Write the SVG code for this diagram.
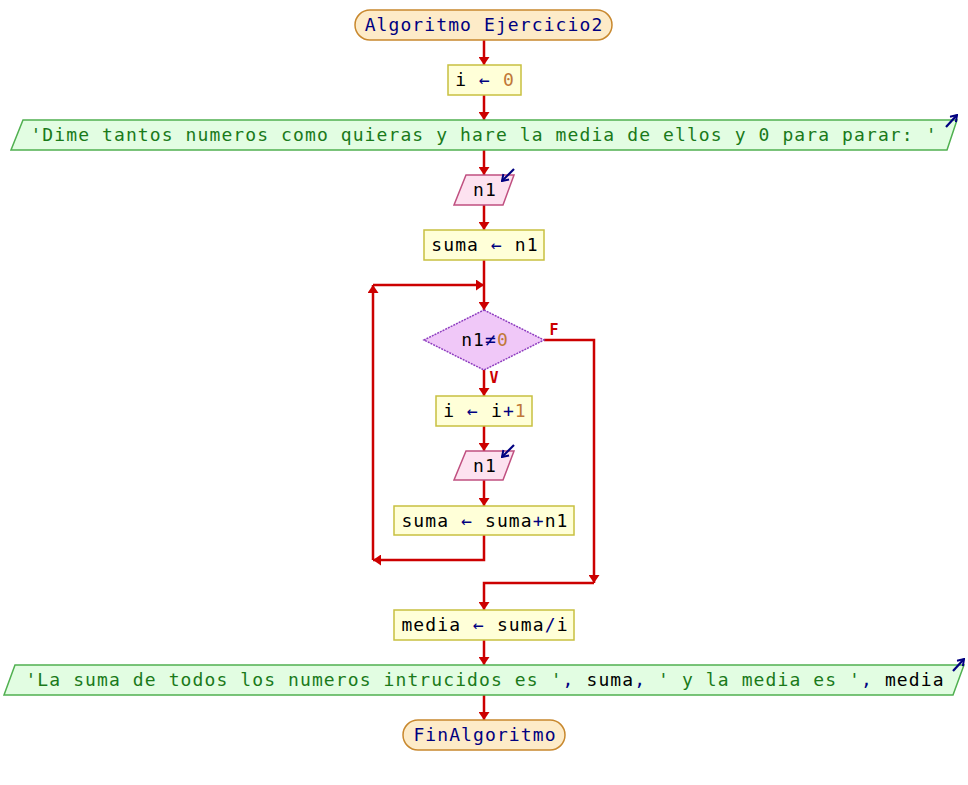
<svg xmlns="http://www.w3.org/2000/svg" width="968" height="785" viewBox="0 0 968 785">
  <defs>
    <style>
      text { font-family: "DejaVu Sans Mono", "Liberation Mono", monospace; font-size: 18px; letter-spacing: 1.1px; text-anchor: middle; fill: #000000; }
      .kw { fill: #000080; }
      .op { fill: #000080; }
      .num { fill: #c07838; }
      .str { fill: #1a7a1a; }
      .term { fill: #fdebc8; stroke: #c8882e; stroke-width: 1.5; }
      .proc { fill: #ffffd8; stroke: #c8c040; stroke-width: 1.5; }
      .out { fill: #e2fde2; stroke: #50b050; stroke-width: 1.5; }
      .in { fill: #fde2f0; stroke: #c05080; stroke-width: 1.5; }
      .dec { fill: #f0c8f8; stroke: #9040c0; stroke-width: 1.5; stroke-dasharray: 2 1; }
      .flow { fill: none; stroke: #cc0000; stroke-width: 2.5; marker-end: url(#arr); }
      .io { fill: none; stroke: #000080; stroke-width: 2.2; marker-end: url(#ioarr); }
      .lbl { fill: #cc0000; font-weight: bold; font-size: 15px; letter-spacing: 0; }
    </style>
    <marker id="arr" viewBox="0 0 8 11" refX="8" refY="5.5" markerWidth="8" markerHeight="11" markerUnits="userSpaceOnUse" orient="auto">
      <path d="M0,0 L8,5.5 L0,11 z" fill="#cc0000"/>
    </marker>
    <marker id="ioarr" viewBox="0 0 8 10" refX="7" refY="5" markerWidth="8" markerHeight="10" markerUnits="userSpaceOnUse" orient="auto">
      <path d="M1,1 L7,5 L1,9" fill="none" stroke="#000080" stroke-width="2"/>
    </marker>
  </defs>
  <rect width="968" height="785" fill="#ffffff"/>

  <g id="connectors">
    <path class="flow" d="M484 40 V65"/>
    <path class="flow" d="M484 95 V120"/>
    <path class="flow" d="M484 150 V175"/>
    <path class="flow" d="M484 205 V230"/>
    <path class="flow" d="M484 260 V310"/>
    <path class="flow" d="M484 370 V396"/>
    <path class="flow" d="M484 426 V451"/>
    <path class="flow" d="M484 480 V506"/>
    <path class="flow" d="M484 535 V560 H373"/>
    <path class="flow" d="M373 560 V285"/>
    <path class="flow" d="M373 285 H484"/>
    <path class="flow" d="M544 340 H594 V583"/>
    <path class="flow" d="M594 583 H484 V610"/>
    <path class="flow" d="M484 640 V665"/>
    <path class="flow" d="M484 695 V720"/>
    <text class="lbl" x="554" y="335">F</text>
    <text class="lbl" x="494" y="383">V</text>
  </g>

  <g id="start">
    <rect class="term" x="355" y="10" width="257" height="30" rx="15"/>
    <text x="484" y="31" class="kw">Algoritmo Ejercicio2</text>
  </g>

  <g id="assign-i">
    <rect class="proc" x="448" y="65" width="73" height="30"/>
    <text x="485" y="86">i <tspan class="op">←</tspan> <tspan class="num">0</tspan></text>
  </g>

  <g id="prompt">
    <polygon class="out" points="23,120 957,120 947,150 11,150"/>
    <text x="484" y="141" class="str">'Dime tantos numeros como quieras y hare la media de ellos y 0 para parar: '</text>
    <path class="io" d="M946 127 L957 115"/>
  </g>

  <g id="read-n1">
    <polygon class="in" points="466,175 514,175 503,205 454,205"/>
    <text x="485" y="196">n1</text>
    <path class="io" d="M514 169 L502 181"/>
  </g>

  <g id="assign-suma">
    <rect class="proc" x="424" y="230" width="120" height="30"/>
    <text x="485" y="251">suma <tspan class="op">←</tspan> n1</text>
  </g>

  <g id="while-cond">
    <polygon class="dec" points="484,310 544,340 484,370 424,340"/>
    <text x="485" y="346">n1<tspan class="op">≠</tspan><tspan class="num">0</tspan></text>
  </g>

  <g id="inc-i">
    <rect class="proc" x="436" y="396" width="96" height="30"/>
    <text x="485" y="417">i <tspan class="op">←</tspan> i<tspan class="op">+</tspan><tspan class="num">1</tspan></text>
  </g>

  <g id="read-n1-loop">
    <polygon class="in" points="466,451 514,451 503,480 454,480"/>
    <text x="485" y="472">n1</text>
    <path class="io" d="M514 445 L502 457"/>
  </g>

  <g id="accumulate">
    <rect class="proc" x="394" y="506" width="180" height="29"/>
    <text x="485" y="527">suma <tspan class="op">←</tspan> suma<tspan class="op">+</tspan>n1</text>
  </g>

  <g id="mean">
    <rect class="proc" x="394" y="610" width="180" height="30"/>
    <text x="485" y="631">media <tspan class="op">←</tspan> suma<tspan class="op">/</tspan>i</text>
  </g>

  <g id="result">
    <polygon class="out" points="15,665 964,665 953,695 4,695"/>
    <text x="485" y="686"><tspan class="str">'La suma de todos los numeros intrucidos es '</tspan><tspan class="op">,</tspan> suma<tspan class="op">,</tspan> <tspan class="str">' y la media es '</tspan><tspan class="op">,</tspan> media</text>
    <path class="io" d="M953 671 L964 659"/>
  </g>

  <g id="end">
    <rect class="term" x="403" y="720" width="162" height="30" rx="15"/>
    <text x="485" y="741" class="kw">FinAlgoritmo</text>
  </g>
</svg>
